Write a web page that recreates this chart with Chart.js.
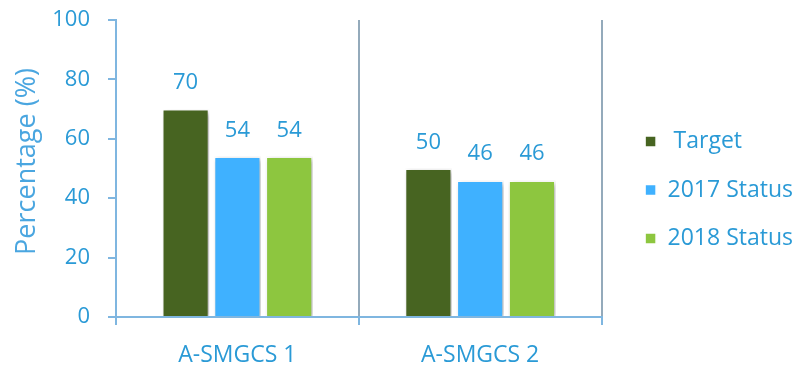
<!DOCTYPE html>
<html>
<head>
<meta charset="utf-8">
<script src="https://cdn.jsdelivr.net/npm/chart.js@4.4.1/dist/chart.umd.min.js"></script>
<style>
  html, body { margin: 0; padding: 0; background: #fff; }
  #wrap { width: 795px; height: 370px; }
</style>
</head>
<body>
<div id="wrap"><canvas id="chart"></canvas></div>
<script>
const categories = ["A-SMGCS 1", "A-SMGCS 2"];
const seriesNames = [" Target", "2017 Status", "2018 Status"];
const targetValues = [70, 50];
const status2017 = [54, 46];
const status2018 = [54, 46];
const yTicks = [0, 20, 40, 60, 80, 100];

const textBlue = "#2a9ad6";
const axisBlue = "#7fb6e0";
const gridGray = "#94aabb";

// soft drop shadow behind the bars
const barShadow = {
  id: "barShadow",
  beforeDatasetsDraw(chart) {
    const ctx = chart.ctx;
    ctx.save();
    ctx.shadowColor = "rgba(0, 0, 0, 0.35)";
    ctx.shadowBlur = 5;
    ctx.shadowOffsetX = 2;
    ctx.shadowOffsetY = 2;
  },
  afterDatasetsDraw(chart) {
    chart.ctx.restore();
  }
};

// value labels above each bar
const valueLabels = {
  id: "valueLabels",
  afterDraw(chart) {
    const ctx = chart.ctx;
    ctx.save();
    ctx.font = "22px 'Open Sans'";
    ctx.fillStyle = textBlue;
    ctx.textAlign = "center";
    ctx.textBaseline = "alphabetic";
    chart.data.datasets.forEach((ds, i) => {
      chart.getDatasetMeta(i).data.forEach((bar, j) => {
        ctx.fillText(ds.data[j], bar.x, bar.y - 20);
      });
    });
    ctx.restore();
  }
};

new Chart(document.getElementById("chart"), {
  type: "bar",
  data: {
    labels: categories,
    datasets: [
      { label: seriesNames[0], data: targetValues, backgroundColor: "#476421" },
      { label: seriesNames[1], data: status2017, backgroundColor: "#3fb1ff" },
      { label: seriesNames[2], data: status2018, backgroundColor: "#8dc63f" }
    ].map(d => Object.assign(d, {
      borderColor: "#ffffff",
      borderWidth: 1.5,
      categoryPercentage: 0.64,
      barPercentage: 0.91
    }))
  },
  options: {
    responsive: true,
    maintainAspectRatio: false,
    animation: false,
    layout: { padding: { left: 0, top: 0, right: -8, bottom: 0 } },
    plugins: {
      legend: {
        position: "right",
        title: { display: true, text: "", font: { size: 1 }, padding: 4.5 },
        labels: {
          boxWidth: 11,
          boxHeight: 11,
          padding: 25.5,
          color: textBlue,
          font: { family: "'Open Sans'", size: 23 }
        }
      },
      tooltip: { enabled: false }
    },
    scales: {
      x: {
        afterFit: s => { s.height = 53; },
        grid: {
          offset: true,
          color: gridGray,
          lineWidth: 2,
          tickColor: axisBlue,
          tickLength: 8
        },
        border: { color: axisBlue, width: 2 },
        ticks: {
          color: textBlue,
          padding: 17,
          font: { family: "'Open Sans'", size: 23 }
        }
      },
      y: {
        min: 0,
        max: 100,
        afterFit: s => { s.width = 116; s.paddingTop = 20; },
        afterBuildTicks: s => { s.ticks = yTicks.map(v => ({ value: v })); },
        grid: {
          drawOnChartArea: false,
          tickColor: axisBlue,
          tickLength: 8,
          lineWidth: 2
        },
        border: { color: axisBlue, width: 2 },
        ticks: {
          color: textBlue,
          padding: 18,
          font: { family: "'Open Sans'", size: 22 }
        },
        title: {
          display: true,
          text: "  Percentage (%)",
          color: "#4aa6e0",
          padding: { top: 11, bottom: 0 },
          font: { family: "'Open Sans'", size: 27 }
        }
      },
      gap: {
        position: "right",
        display: false,
        afterFit: s => { s.width = 18; }
      }
    }
  },
  plugins: [barShadow, valueLabels]
});
</script>
</body>
</html>
